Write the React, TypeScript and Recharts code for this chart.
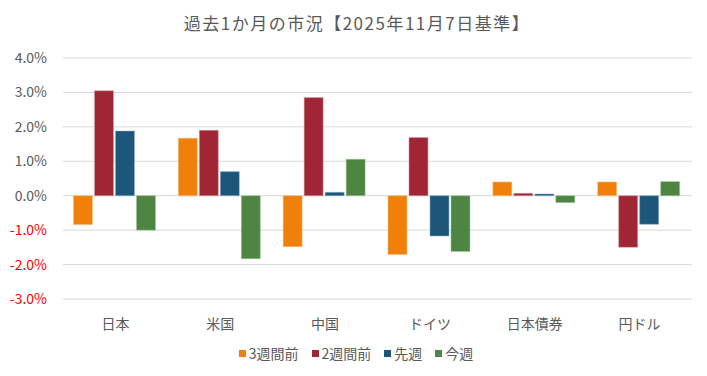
import { Bar, BarChart, CartesianGrid, Legend, XAxis, YAxis } from "recharts";

const categories = ["日本", "米国", "中国", "ドイツ", "日本債券", "円ドル"];
const threeWeeksAgo = [-0.84, 1.67, -1.48, -1.71, 0.4, 0.4];
const twoWeeksAgo = [3.05, 1.9, 2.85, 1.69, 0.07, -1.5];
const lastWeek = [1.88, 0.7, 0.1, -1.17, 0.05, -0.83];
const thisWeek = [-1.0, -1.83, 1.06, -1.62, -0.2, 0.41];
const yTicks = [-3, -2, -1, 0, 1, 2, 3, 4];

const series = [
  { key: "w3", name: "3週間前", color: "#f0800a", edge: "#f7c08a" },
  { key: "w2", name: "2週間前", color: "#a02636", edge: "#d8a0a8" },
  { key: "w1", name: "先週", color: "#1c577a", edge: "#8fb0c8" },
  { key: "w0", name: "今週", color: "#4e8542", edge: "#a6c49e" },
];

const data = categories.map((name, i) => ({
  name,
  w3: threeWeeksAgo[i],
  w2: twoWeeksAgo[i],
  w1: lastWeek[i],
  w0: thisWeek[i],
}));

const FONT = "'Noto Sans CJK JP', 'Noto Sans', sans-serif";

const YTick = ({ x, y, payload }: any) => (
  <text
    x={x - 8}
    y={y}
    dy={5}
    textAnchor="end"
    fontSize={14}
    fontFamily={FONT}
    fill={payload.value < 0 ? "#ff0000" : "#595959"}
  >
    {`${payload.value.toFixed(1)}%`}
  </text>
);

// legend in series order (recharts would sort it otherwise)
const LegendBox = () => (
  <div
    style={{
      display: "flex",
      justifyContent: "center",
      gap: 13,
      fontSize: 14,
      color: "#595959",
      fontFamily: FONT,
      lineHeight: "20px",
      paddingLeft: 20,
    }}
  >
    {series.map((s) => (
      <span key={s.key} style={{ display: "flex", alignItems: "center" }}>
        <span
          style={{
            width: 7,
            height: 7,
            background: s.color,
            marginRight: 3,
            display: "inline-block",
          }}
        />
        {s.name}
      </span>
    ))}
  </div>
);

export default function App() {
  return (
    <div
      style={{
        position: "absolute",
        top: 0,
        left: 0,
        width: 707,
        height: 376,
        background: "#fff",
        fontFamily: FONT,
      }}
    >
      <div
        style={{
          position: "absolute",
          top: 10,
          left: 0,
          width: 714,
          textAlign: "center",
          fontSize: 17,
          letterSpacing: 1.5,
          color: "#595959",
        }}
      >
        過去1か月の市況【2025年11月7日基準】
      </div>
      <BarChart
        width={707}
        height={376}
        data={data}
        margin={{ top: 58, right: 15, left: 0, bottom: 13 }}
        barCategoryGap="10%"
        barGap={2}
      >
        <CartesianGrid vertical={false} stroke="#d9d9d9" />
        <XAxis
          dataKey="name"
          axisLine={false}
          tickLine={false}
          tick={{ fontSize: 14, fill: "#595959", fontFamily: FONT }}
          tickMargin={14}
          height={44}
        />
        <YAxis
          domain={[-3, 4]}
          ticks={yTicks}
          axisLine={false}
          tickLine={false}
          width={63}
          tick={<YTick />}
          interval={0}
        />
        <Legend verticalAlign="bottom" content={<LegendBox />} />
        {series.map((s) => (
          <Bar
            key={s.key}
            dataKey={s.key}
            name={s.name}
            fill={s.color}
            stroke={s.edge}
            strokeWidth={0.5}
            isAnimationActive={false}
          />
        ))}
      </BarChart>
    </div>
  );
}
